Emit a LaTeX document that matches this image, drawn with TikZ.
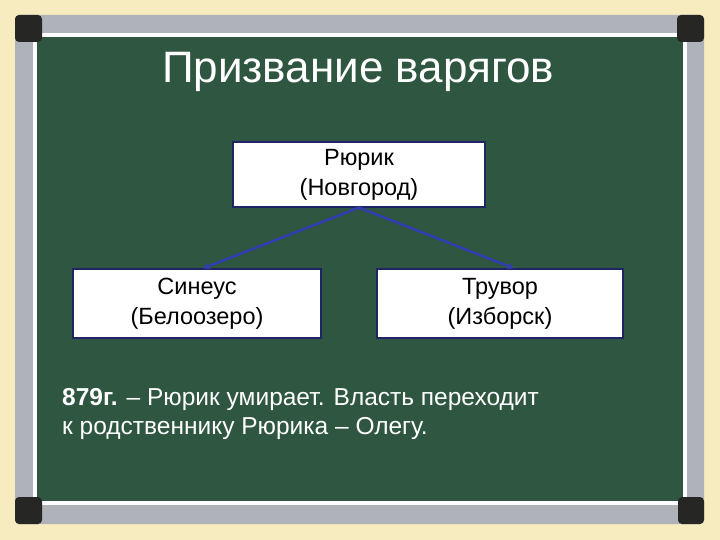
\documentclass[tikz,border=0pt]{standalone}
\usepackage{fontspec}
\setmainfont{Liberation Sans}
\usetikzlibrary{arrows.meta}
\definecolor{paper}{RGB}{246,236,192}
\definecolor{board}{RGB}{47,86,64}
\definecolor{frameg}{RGB}{176,178,186}
\definecolor{cornerd}{RGB}{38,38,36}
\definecolor{navy}{RGB}{30,36,100}
\definecolor{arrowblue}{RGB}{50,60,180}
\tikzset{
  box/.style={draw=navy, line width=1.3pt, fill=white, minimum width=#1, align=center, font=\fontsize{23.5}{30}\selectfont, inner sep=0pt},
  link/.style={draw=arrowblue, line width=2.4pt, -{Stealth[length=7pt,width=7pt]}},
  corner/.style={fill=cornerd, rounded corners=4pt}
}
\begin{document}
\begin{tikzpicture}[x=1pt,y=-1pt]
\useasboundingbox (0,0) rectangle (720,540);
\fill[paper] (0,0) rectangle (720,540);
% frame
\fill[frameg, rounded corners=4pt] (15,15) rectangle (704,524);
\fill[white] (33,33) rectangle (687,505);
\fill[board] (37,37) rectangle (683,501);
\fill[corner] (15,15) rectangle (42,42);
\fill[corner] (677,15) rectangle (704,42);
\fill[corner] (15,497) rectangle (42,524);
\fill[corner] (678,497) rectangle (704,524);
% title
\node[text=white, font=\fontsize{44}{50}\selectfont] (title) at (358,72) {Призвание варягов};
% boxes
\node[box=252pt, minimum height=65pt] (rurik) at (359,174.5) {Рюрик\\(Новгород)};
\node[box=248pt, minimum height=69pt] (sineus) at (197,303.5) {Синеус\\(Белоозеро)};
\node[box=246pt, minimum height=69pt] (truvor) at (500,303.5) {Трувор\\(Изборск)};
\draw[link] (rurik.south) -- ([xshift=6pt]sineus.north);
\draw[link] (rurik.south) -- ([xshift=14pt]truvor.north);
% text
\node[text=white, anchor=west, align=left, font=\fontsize{24.5}{29}\selectfont, inner sep=0pt] (note) at (62,414)
  {\textbf{879г.} – Рюрик умирает. Власть переходит\\к родственнику Рюрика – Олегу.};
\end{tikzpicture}
\end{document}
